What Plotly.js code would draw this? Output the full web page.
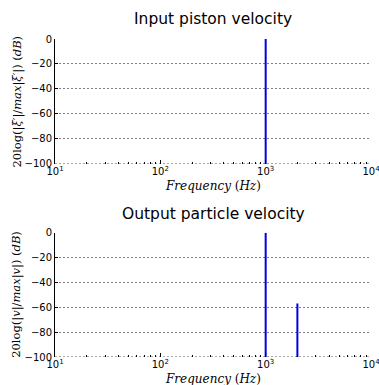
<!DOCTYPE html>
<html><head><meta charset="utf-8">
<script src="https://cdn.plot.ly/plotly-3.0.1.min.js"></script>
<style>html,body{margin:0;padding:0;background:#fff}#c{width:379px;height:385px}</style>
</head><body><div id="c"></div>
<script>
// Data
const inputFreq = [1000];
const inputDb = [0];
const outputFreq = [1000, 2000];
const outputDb = [0, -57];
const yTicks = [0, -20, -40, -60, -80, -100];
const yTickText = ['0', '\u221220', '\u221240', '\u221260', '\u221280', '\u2212100'];
const xTicks = [10, 100, 1000, 10000];
const xTickText = ['10<sup>1</sup>', '10<sup>2</sup>', '10<sup>3</sup>', '10<sup>4</sup>'];
const floorDb = -100;

function stems(freqs, vals) {
  const x = [], y = [];
  freqs.forEach((f, i) => { x.push(f, f, null); y.push(floorDb, vals[i], null); });
  return {x, y};
}
const s1 = stems(inputFreq, inputDb);
const s2 = stems(outputFreq, outputDb);

const minorVals = [];
[10, 100, 1000].forEach(d => { for (let k = 2; k <= 9; k++) minorVals.push(d * k); });

const traces = [
  {x: s1.x, y: s1.y, type: 'scatter', mode: 'lines', line: {color: '#0000dd', width: 2}, xaxis: 'x', yaxis: 'y', hoverinfo: 'none'},
  {x: s2.x, y: s2.y, type: 'scatter', mode: 'lines', line: {color: '#0000dd', width: 2}, xaxis: 'x2', yaxis: 'y2', hoverinfo: 'none'}
];

const tickFont = {family: 'DejaVu Sans', size: 10, color: '#000'};
const gridDash = '2px,2px';
function xax(anchor) {
  return {
    type: 'log', range: [1, 4], anchor: anchor,
    tickmode: 'array', tickvals: xTicks, ticktext: xTickText,
    ticks: 'inside', ticklen: 4, tickcolor: '#000', tickwidth: 1,
    ticklabeloverflow: 'allow',
    minor: {ticks: 'inside', ticklen: 2, tickcolor: '#000', tickmode: 'array', tickvals: minorVals, showgrid: false},
    showgrid: false, showline: false, zeroline: false,
    tickfont: tickFont
  };
}
function yax(anchor, dom) {
  return {
    range: [-100, 0], domain: dom, anchor: anchor,
    tickmode: 'array', tickvals: yTicks, ticktext: yTickText,
    ticks: 'inside', ticklen: 3, tickcolor: '#000',
    showgrid: true, gridcolor: '#808080', griddash: gridDash, gridwidth: 1,
    showline: true, linecolor: '#000', linewidth: 1, zeroline: false,
    tickfont: tickFont
  };
}

const layout = {
  width: 379, height: 385,
  margin: {l: 55, r: 8, t: 39, b: 28},
  paper_bgcolor: '#fff', plot_bgcolor: '#fff',
  showlegend: false,
  xaxis: Object.assign(xax('y'), {domain: [0, 1]}),
  yaxis: yax('x', [0.607, 1]),
  xaxis2: Object.assign(xax('y2'), {domain: [0, 1]}),
  yaxis2: yax('x2', [0, 0.391]),
  shapes: [
    {type: 'line', xref: 'x domain', yref: 'y', x0: 0, x1: 1, y0: floorDb, y1: floorDb, line: {color: '#555', width: 1, dash: gridDash}, layer: 'below'},
    {type: 'line', xref: 'x2 domain', yref: 'y2', x0: 0, x1: 1, y0: floorDb, y1: floorDb, line: {color: '#555', width: 1, dash: gridDash}, layer: 'below'}
  ],
  annotations: [
    {text: 'Input piston velocity', xref: 'paper', yref: 'paper', x: 0.5, y: 1, yshift: 20, showarrow: false, font: {family: 'DejaVu Sans', size: 15.5, color: '#000'}, xanchor: 'center', yanchor: 'middle'},
    {text: 'Output particle velocity', xref: 'paper', yref: 'paper', x: 0.5, y: 0.391, yshift: 19, showarrow: false, font: {family: 'DejaVu Sans', size: 15.5, color: '#000'}, xanchor: 'center', yanchor: 'middle'},
    {text: '<i>Frequency</i> (<i>Hz</i>)', xref: 'paper', yref: 'paper', x: 0.5, y: 0.607, yshift: -22, showarrow: false, font: {family: 'DejaVu Serif', size: 12, color: '#000'}, xanchor: 'center', yanchor: 'middle'},
    {text: '<i>Frequency</i> (<i>Hz</i>)', xref: 'paper', yref: 'paper', x: 0.5, y: 0, yshift: -22, showarrow: false, font: {family: 'DejaVu Serif', size: 12, color: '#000'}, xanchor: 'center', yanchor: 'middle'},
    {text: '20log(|<i>\u03be\u2032</i>|/<i>max</i>|<i>\u03be\u2032</i>|) (<i>dB</i>)', xref: 'paper', yref: 'paper', x: 0, xshift: -38, y: 0.8035, textangle: -90, showarrow: false, font: {family: 'DejaVu Serif', size: 11.5, color: '#000'}, xanchor: 'center', yanchor: 'middle'},
    {text: '20log(|<i>v</i>|/<i>max</i>|<i>v</i>|) (<i>dB</i>)', xref: 'paper', yref: 'paper', x: 0, xshift: -38, y: 0.1955, textangle: -90, showarrow: false, font: {family: 'DejaVu Serif', size: 11.5, color: '#000'}, xanchor: 'center', yanchor: 'middle'}
  ]
};

Plotly.newPlot('c', traces, layout, {staticPlot: true, displayModeBar: false});
</script></body></html>
